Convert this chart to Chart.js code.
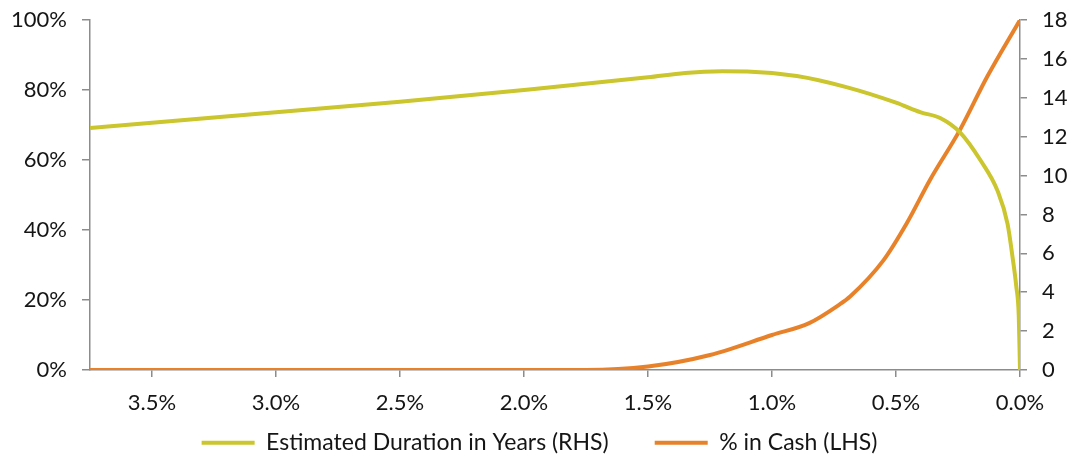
<!DOCTYPE html>
<html>
<head>
<meta charset="utf-8">
<script src="https://cdn.jsdelivr.net/npm/chart.js@4"></script>
<style>
  html, body { margin: 0; padding: 0; background: #fff; }
  #wrap { width: 1079px; height: 457px; position: relative; }
</style>
</head>
<body>
<div id="wrap"><canvas id="c" width="1079" height="457"></canvas></div>
<script>
// Yield level (%), x axis reversed
const durationX = [3.75, 3.0, 2.5, 2.0, 1.5, 1.35, 1.2, 1.1, 0.9, 0.7, 0.5, 0.4, 0.32, 0.24, 0.16, 0.09, 0.05, 0.03, 0.015, 0.005, 0];
const durationY = [12.45, 13.25, 13.8, 14.4, 15.05, 15.28, 15.36, 15.35, 15.12, 14.55, 13.75, 13.25, 12.95, 12.2, 10.8, 9.2, 7.5, 5.8, 4.3, 2.8, 0];

const cashX = [3.75, 2.5, 1.75, 1.5, 1.25, 1.0, 0.85, 0.73, 0.685, 0.55, 0.456, 0.363, 0.242, 0.133, 0];
const cashY = [0, 0, 0, 1.0, 4.3, 10, 13.4, 18.6, 21, 31.4, 42, 54.3, 68.6, 83.7, 100];

const seriesNames = ['Estimated Duration in Years (RHS)', '% in Cash (LHS)'];
const leftTicks = [0, 20, 40, 60, 80, 100];
const rightTicks = [0, 2, 4, 6, 8, 10, 12, 14, 16, 18];
const xTicks = [3.5, 3.0, 2.5, 2.0, 1.5, 1.0, 0.5, 0.0];

const toPts = (xs, ys) => xs.map((x, i) => ({ x: x, y: ys[i] }));

const FONT = 'Lato';
const AXIS = '#8c8c8c';
const TXT = '#151515';

// move the legend row up so it sits just under the x-axis labels
const legendShift = {
  id: 'legendShift',
  afterLayout(chart) {
    const lg = chart.legend;
    if (!lg) return;
    lg.top -= 30.8;
  }
};

const fitY = (w) => (s) => { s.width = w; s.paddingTop = 0; s.paddingBottom = 0; };

new Chart(document.getElementById('c'), {
  type: 'line',
  plugins: [legendShift],
  data: {
    datasets: [
      {
        label: seriesNames[0],
        data: toPts(durationX, durationY),
        yAxisID: 'yR',
        borderColor: '#CBC52E',
        backgroundColor: '#CBC52E',
        borderWidth: 4,
        pointRadius: 0,
        cubicInterpolationMode: 'monotone',
        fill: false
      },
      {
        label: seriesNames[1],
        data: toPts(cashX, cashY),
        yAxisID: 'yL',
        borderColor: '#E8822A',
        backgroundColor: '#E8822A',
        borderWidth: 4,
        pointRadius: 0,
        cubicInterpolationMode: 'monotone',
        fill: false
      }
    ]
  },
  options: {
    responsive: false,
    animation: false,
    layout: { padding: { top: 20, left: 0, right: 0, bottom: 0 } },
    plugins: {
      tooltip: { enabled: false },
      legend: {
        position: 'bottom',
        maxHeight: 41,
        labels: {
          usePointStyle: true,
          pointStyle: 'line',
          pointStyleWidth: 53,
          boxHeight: 4,
          padding: 46,
          color: TXT,
          font: { family: FONT, size: 23 }
        }
      }
    },
    scales: {
      x: {
        type: 'linear',
        reverse: true,
        min: 0,
        max: 3.75,
        afterBuildTicks: (s) => { s.ticks = xTicks.map(v => ({ value: v })); },
        afterFit: (s) => { s.height = 46; },
        ticks: {
          color: TXT,
          font: { family: FONT, size: 22 },
          padding: 13,
          maxRotation: 0,
          autoSkip: false,
          callback: (v) => Number(v).toFixed(1) + '%'
        },
        grid: { drawOnChartArea: false, tickLength: 7, color: AXIS, tickColor: AXIS, lineWidth: 1.5 },
        border: { color: AXIS, width: 1.5 }
      },
      yL: {
        position: 'left',
        min: 0,
        max: 100,
        afterBuildTicks: (s) => { s.ticks = leftTicks.map(v => ({ value: v })); },
        afterFit: fitY(90),
        ticks: {
          color: TXT,
          font: { family: FONT, size: 22 },
          padding: 15,
          callback: (v) => v + '%'
        },
        grid: { drawOnChartArea: false, tickLength: 8, color: AXIS, tickColor: AXIS, lineWidth: 1.5 },
        border: { color: AXIS, width: 1.5 }
      },
      yR: {
        position: 'right',
        min: 0,
        max: 18,
        afterBuildTicks: (s) => { s.ticks = rightTicks.map(v => ({ value: v })); },
        afterFit: fitY(59),
        ticks: {
          color: TXT,
          font: { family: FONT, size: 22 },
          padding: 15
        },
        grid: { drawOnChartArea: false, tickLength: 7, color: AXIS, tickColor: AXIS, lineWidth: 1.5 },
        border: { color: AXIS, width: 1.5 }
      }
    }
  }
});
</script>
</body>
</html>
